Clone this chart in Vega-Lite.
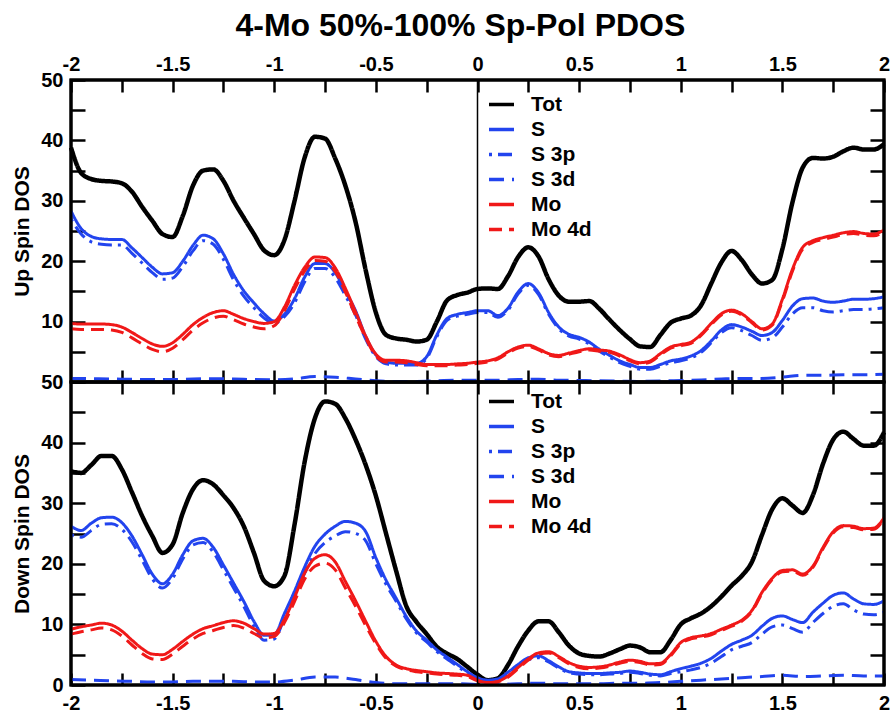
{
"$schema": "https://vega.github.io/schema/vega-lite/v6.json",
"background": "white",
"padding": {"left": 10, "top": 9, "right": 5, "bottom": 5},
"title": {"text": "4-Mo 50%-100% Sp-Pol PDOS", "fontSize": 32, "font": "Liberation Sans", "fontWeight": "bold", "color": "black", "anchor": "middle", "offset": 10, "dx": 8},
"config": {
  "font": "Liberation Sans",
  "view": {"stroke": "black", "strokeWidth": 3},
  "axis": {"grid": false, "domain": false, "zindex": 1, "tickColor": "black", "tickWidth": 2.5, "labelColor": "black", "labelFontSize": 20, "labelFontWeight": "bold", "titleFontSize": 21, "titleFontWeight": "bold", "titleColor": "black"},
  "legend": {"labelFontSize": 21, "labelFontWeight": "bold", "labelColor": "black", "symbolType": "stroke", "symbolSize": 625, "symbolStrokeWidth": 3.5, "rowPadding": 0, "labelOffset": 15, "padding": 0}
},
"spacing": 0,
"bounds": "flush",
"resolve": {"scale": {"color": "independent", "strokeDash": "independent"}, "legend": {"color": "independent", "strokeDash": "independent"}},
"datasets": {
"up": [
{"s":"Tot","x":-2,"y":38.8},{"s":"Tot","x":-1.95,"y":34.6},{"s":"Tot","x":-1.9,"y":33.6},{"s":"Tot","x":-1.85,"y":33.3},{"s":"Tot","x":-1.8,"y":33.2},{"s":"Tot","x":-1.75,"y":32.9},{"s":"Tot","x":-1.7,"y":31.5},{"s":"Tot","x":-1.65,"y":29.0},{"s":"Tot","x":-1.6,"y":26.7},{"s":"Tot","x":-1.55,"y":24.5},{"s":"Tot","x":-1.5,"y":24.0},{"s":"Tot","x":-1.45,"y":27.5},{"s":"Tot","x":-1.4,"y":32.5},{"s":"Tot","x":-1.35,"y":35.0},{"s":"Tot","x":-1.3,"y":35.2},{"s":"Tot","x":-1.25,"y":33.3},{"s":"Tot","x":-1.2,"y":30.0},{"s":"Tot","x":-1.15,"y":27.2},{"s":"Tot","x":-1.1,"y":24.5},{"s":"Tot","x":-1.05,"y":21.8},{"s":"Tot","x":-1,"y":21.0},{"s":"Tot","x":-0.95,"y":23.5},{"s":"Tot","x":-0.9,"y":30.0},{"s":"Tot","x":-0.85,"y":37.2},{"s":"Tot","x":-0.8,"y":40.6},{"s":"Tot","x":-0.75,"y":40.3},{"s":"Tot","x":-0.7,"y":37.0},{"s":"Tot","x":-0.65,"y":32.5},{"s":"Tot","x":-0.6,"y":26.5},{"s":"Tot","x":-0.55,"y":18.5},{"s":"Tot","x":-0.5,"y":11.5},{"s":"Tot","x":-0.45,"y":7.8},{"s":"Tot","x":-0.4,"y":7.2},{"s":"Tot","x":-0.35,"y":7.0},{"s":"Tot","x":-0.3,"y":6.7},{"s":"Tot","x":-0.25,"y":7.0},{"s":"Tot","x":-0.2,"y":10.0},{"s":"Tot","x":-0.15,"y":13.5},{"s":"Tot","x":-0.1,"y":14.4},{"s":"Tot","x":-0.05,"y":14.8},{"s":"Tot","x":0,"y":15.4},{"s":"Tot","x":0.05,"y":15.5},{"s":"Tot","x":0.1,"y":15.4},{"s":"Tot","x":0.15,"y":17.5},{"s":"Tot","x":0.2,"y":20.7},{"s":"Tot","x":0.25,"y":22.3},{"s":"Tot","x":0.3,"y":20.8},{"s":"Tot","x":0.35,"y":17.0},{"s":"Tot","x":0.4,"y":14.3},{"s":"Tot","x":0.45,"y":13.3},{"s":"Tot","x":0.5,"y":13.3},{"s":"Tot","x":0.55,"y":13.4},{"s":"Tot","x":0.6,"y":12.1},{"s":"Tot","x":0.65,"y":10.3},{"s":"Tot","x":0.7,"y":8.6},{"s":"Tot","x":0.75,"y":7.1},{"s":"Tot","x":0.8,"y":5.9},{"s":"Tot","x":0.85,"y":5.8},{"s":"Tot","x":0.9,"y":7.8},{"s":"Tot","x":0.95,"y":9.8},{"s":"Tot","x":1,"y":10.5},{"s":"Tot","x":1.05,"y":11.0},{"s":"Tot","x":1.1,"y":12.7},{"s":"Tot","x":1.15,"y":16.3},{"s":"Tot","x":1.2,"y":19.8},{"s":"Tot","x":1.25,"y":21.7},{"s":"Tot","x":1.3,"y":20.2},{"s":"Tot","x":1.35,"y":17.8},{"s":"Tot","x":1.4,"y":16.3},{"s":"Tot","x":1.45,"y":16.9},{"s":"Tot","x":1.5,"y":22.0},{"s":"Tot","x":1.55,"y":29.8},{"s":"Tot","x":1.6,"y":35.5},{"s":"Tot","x":1.65,"y":37.1},{"s":"Tot","x":1.7,"y":37.0},{"s":"Tot","x":1.75,"y":37.3},{"s":"Tot","x":1.8,"y":38.2},{"s":"Tot","x":1.85,"y":38.8},{"s":"Tot","x":1.9,"y":38.5},{"s":"Tot","x":1.95,"y":38.5},{"s":"Tot","x":2,"y":39.4},
{"s":"S","x":-2,"y":28.3},{"s":"S","x":-1.95,"y":25.4},{"s":"S","x":-1.9,"y":24.1},{"s":"S","x":-1.85,"y":23.7},{"s":"S","x":-1.8,"y":23.6},{"s":"S","x":-1.75,"y":23.6},{"s":"S","x":-1.7,"y":22.2},{"s":"S","x":-1.65,"y":20.6},{"s":"S","x":-1.6,"y":19.0},{"s":"S","x":-1.55,"y":17.9},{"s":"S","x":-1.5,"y":18.1},{"s":"S","x":-1.45,"y":20.0},{"s":"S","x":-1.4,"y":22.6},{"s":"S","x":-1.35,"y":24.3},{"s":"S","x":-1.3,"y":23.7},{"s":"S","x":-1.25,"y":21.2},{"s":"S","x":-1.2,"y":17.8},{"s":"S","x":-1.15,"y":15.1},{"s":"S","x":-1.1,"y":13.1},{"s":"S","x":-1.05,"y":11.3},{"s":"S","x":-1,"y":10.1},{"s":"S","x":-0.95,"y":11.2},{"s":"S","x":-0.9,"y":13.8},{"s":"S","x":-0.85,"y":17.4},{"s":"S","x":-0.8,"y":19.6},{"s":"S","x":-0.75,"y":19.6},{"s":"S","x":-0.7,"y":18.1},{"s":"S","x":-0.65,"y":15.0},{"s":"S","x":-0.6,"y":11.8},{"s":"S","x":-0.55,"y":7.5},{"s":"S","x":-0.5,"y":4.5},{"s":"S","x":-0.45,"y":3.3},{"s":"S","x":-0.4,"y":3.1},{"s":"S","x":-0.35,"y":3.1},{"s":"S","x":-0.3,"y":3.1},{"s":"S","x":-0.25,"y":4.2},{"s":"S","x":-0.2,"y":7.8},{"s":"S","x":-0.15,"y":10.5},{"s":"S","x":-0.1,"y":11.2},{"s":"S","x":-0.05,"y":11.5},{"s":"S","x":0,"y":11.8},{"s":"S","x":0.05,"y":11.8},{"s":"S","x":0.1,"y":11.0},{"s":"S","x":0.15,"y":12.2},{"s":"S","x":0.2,"y":14.9},{"s":"S","x":0.25,"y":16.3},{"s":"S","x":0.3,"y":14.8},{"s":"S","x":0.35,"y":11.5},{"s":"S","x":0.4,"y":9.1},{"s":"S","x":0.45,"y":7.9},{"s":"S","x":0.5,"y":7.4},{"s":"S","x":0.55,"y":6.6},{"s":"S","x":0.6,"y":5.4},{"s":"S","x":0.65,"y":4.4},{"s":"S","x":0.7,"y":3.5},{"s":"S","x":0.75,"y":2.9},{"s":"S","x":0.8,"y":2.4},{"s":"S","x":0.85,"y":2.4},{"s":"S","x":0.9,"y":2.9},{"s":"S","x":0.95,"y":3.5},{"s":"S","x":1,"y":3.8},{"s":"S","x":1.05,"y":4.3},{"s":"S","x":1.1,"y":5.2},{"s":"S","x":1.15,"y":6.8},{"s":"S","x":1.2,"y":8.6},{"s":"S","x":1.25,"y":9.5},{"s":"S","x":1.3,"y":9.1},{"s":"S","x":1.35,"y":8.4},{"s":"S","x":1.4,"y":7.7},{"s":"S","x":1.45,"y":8.2},{"s":"S","x":1.5,"y":10.2},{"s":"S","x":1.55,"y":12.6},{"s":"S","x":1.6,"y":13.8},{"s":"S","x":1.65,"y":13.9},{"s":"S","x":1.7,"y":13.4},{"s":"S","x":1.75,"y":13.2},{"s":"S","x":1.8,"y":13.4},{"s":"S","x":1.85,"y":13.7},{"s":"S","x":1.9,"y":13.7},{"s":"S","x":1.95,"y":13.8},{"s":"S","x":2,"y":14.1},
{"s":"S 3p","x":-2,"y":27.0},{"s":"S 3p","x":-1.95,"y":24.5},{"s":"S 3p","x":-1.9,"y":23.2},{"s":"S 3p","x":-1.85,"y":22.8},{"s":"S 3p","x":-1.8,"y":22.7},{"s":"S 3p","x":-1.75,"y":22.7},{"s":"S 3p","x":-1.7,"y":21.3},{"s":"S 3p","x":-1.65,"y":19.7},{"s":"S 3p","x":-1.6,"y":18.1},{"s":"S 3p","x":-1.55,"y":17.0},{"s":"S 3p","x":-1.5,"y":17.2},{"s":"S 3p","x":-1.45,"y":19.1},{"s":"S 3p","x":-1.4,"y":21.7},{"s":"S 3p","x":-1.35,"y":23.4},{"s":"S 3p","x":-1.3,"y":22.8},{"s":"S 3p","x":-1.25,"y":20.3},{"s":"S 3p","x":-1.2,"y":16.9},{"s":"S 3p","x":-1.15,"y":14.2},{"s":"S 3p","x":-1.1,"y":12.3},{"s":"S 3p","x":-1.05,"y":10.6},{"s":"S 3p","x":-1,"y":9.7},{"s":"S 3p","x":-0.95,"y":10.8},{"s":"S 3p","x":-0.9,"y":13.1},{"s":"S 3p","x":-0.85,"y":16.6},{"s":"S 3p","x":-0.8,"y":18.8},{"s":"S 3p","x":-0.75,"y":18.8},{"s":"S 3p","x":-0.7,"y":17.3},{"s":"S 3p","x":-0.65,"y":14.3},{"s":"S 3p","x":-0.6,"y":11.1},{"s":"S 3p","x":-0.55,"y":7.1},{"s":"S 3p","x":-0.5,"y":4.2},{"s":"S 3p","x":-0.45,"y":3.0},{"s":"S 3p","x":-0.4,"y":2.8},{"s":"S 3p","x":-0.35,"y":2.8},{"s":"S 3p","x":-0.3,"y":2.8},{"s":"S 3p","x":-0.25,"y":3.9},{"s":"S 3p","x":-0.2,"y":7.5},{"s":"S 3p","x":-0.15,"y":10.2},{"s":"S 3p","x":-0.1,"y":10.9},{"s":"S 3p","x":-0.05,"y":11.2},{"s":"S 3p","x":0,"y":11.5},{"s":"S 3p","x":0.05,"y":11.5},{"s":"S 3p","x":0.1,"y":10.7},{"s":"S 3p","x":0.15,"y":11.9},{"s":"S 3p","x":0.2,"y":14.6},{"s":"S 3p","x":0.25,"y":16.0},{"s":"S 3p","x":0.3,"y":14.5},{"s":"S 3p","x":0.35,"y":11.2},{"s":"S 3p","x":0.4,"y":8.8},{"s":"S 3p","x":0.45,"y":7.6},{"s":"S 3p","x":0.5,"y":7.1},{"s":"S 3p","x":0.55,"y":6.3},{"s":"S 3p","x":0.6,"y":5.1},{"s":"S 3p","x":0.65,"y":4.1},{"s":"S 3p","x":0.7,"y":3.2},{"s":"S 3p","x":0.75,"y":2.6},{"s":"S 3p","x":0.8,"y":2.1},{"s":"S 3p","x":0.85,"y":2.1},{"s":"S 3p","x":0.9,"y":2.6},{"s":"S 3p","x":0.95,"y":3.2},{"s":"S 3p","x":1,"y":3.5},{"s":"S 3p","x":1.05,"y":4.0},{"s":"S 3p","x":1.1,"y":4.9},{"s":"S 3p","x":1.15,"y":6.5},{"s":"S 3p","x":1.2,"y":8.2},{"s":"S 3p","x":1.25,"y":9.0},{"s":"S 3p","x":1.3,"y":8.5},{"s":"S 3p","x":1.35,"y":7.7},{"s":"S 3p","x":1.4,"y":6.9},{"s":"S 3p","x":1.45,"y":7.3},{"s":"S 3p","x":1.5,"y":9.1},{"s":"S 3p","x":1.55,"y":11.3},{"s":"S 3p","x":1.6,"y":12.3},{"s":"S 3p","x":1.65,"y":12.3},{"s":"S 3p","x":1.7,"y":11.8},{"s":"S 3p","x":1.75,"y":11.6},{"s":"S 3p","x":1.8,"y":11.8},{"s":"S 3p","x":1.85,"y":12.0},{"s":"S 3p","x":1.9,"y":12.0},{"s":"S 3p","x":1.95,"y":12.1},{"s":"S 3p","x":2,"y":12.3},
{"s":"S 3d","x":-2,"y":0.6},{"s":"S 3d","x":-1.9,"y":0.55},{"s":"S 3d","x":-1.8,"y":0.5},{"s":"S 3d","x":-1.7,"y":0.45},{"s":"S 3d","x":-1.6,"y":0.4},{"s":"S 3d","x":-1.5,"y":0.4},{"s":"S 3d","x":-1.4,"y":0.5},{"s":"S 3d","x":-1.3,"y":0.55},{"s":"S 3d","x":-1.2,"y":0.5},{"s":"S 3d","x":-1.1,"y":0.4},{"s":"S 3d","x":-1,"y":0.35},{"s":"S 3d","x":-0.9,"y":0.5},{"s":"S 3d","x":-0.8,"y":0.9},{"s":"S 3d","x":-0.7,"y":0.8},{"s":"S 3d","x":-0.6,"y":0.5},{"s":"S 3d","x":-0.5,"y":0.2},{"s":"S 3d","x":-0.4,"y":0.1},{"s":"S 3d","x":-0.3,"y":0.1},{"s":"S 3d","x":-0.2,"y":0.2},{"s":"S 3d","x":-0.1,"y":0.3},{"s":"S 3d","x":0,"y":0.3},{"s":"S 3d","x":0.1,"y":0.3},{"s":"S 3d","x":0.2,"y":0.4},{"s":"S 3d","x":0.3,"y":0.45},{"s":"S 3d","x":0.4,"y":0.3},{"s":"S 3d","x":0.5,"y":0.25},{"s":"S 3d","x":0.6,"y":0.2},{"s":"S 3d","x":0.7,"y":0.15},{"s":"S 3d","x":0.8,"y":0.1},{"s":"S 3d","x":0.9,"y":0.15},{"s":"S 3d","x":1,"y":0.25},{"s":"S 3d","x":1.1,"y":0.35},{"s":"S 3d","x":1.2,"y":0.5},{"s":"S 3d","x":1.3,"y":0.6},{"s":"S 3d","x":1.4,"y":0.6},{"s":"S 3d","x":1.5,"y":0.8},{"s":"S 3d","x":1.6,"y":1.1},{"s":"S 3d","x":1.7,"y":1.1},{"s":"S 3d","x":1.8,"y":1.2},{"s":"S 3d","x":1.9,"y":1.2},{"s":"S 3d","x":2,"y":1.3},
{"s":"Mo","x":-2,"y":9.7},{"s":"Mo","x":-1.95,"y":9.6},{"s":"Mo","x":-1.9,"y":9.6},{"s":"Mo","x":-1.85,"y":9.6},{"s":"Mo","x":-1.8,"y":9.5},{"s":"Mo","x":-1.75,"y":9.1},{"s":"Mo","x":-1.7,"y":8.2},{"s":"Mo","x":-1.65,"y":7.2},{"s":"Mo","x":-1.6,"y":6.3},{"s":"Mo","x":-1.55,"y":5.9},{"s":"Mo","x":-1.5,"y":6.5},{"s":"Mo","x":-1.45,"y":7.9},{"s":"Mo","x":-1.4,"y":9.5},{"s":"Mo","x":-1.35,"y":10.7},{"s":"Mo","x":-1.3,"y":11.5},{"s":"Mo","x":-1.25,"y":11.8},{"s":"Mo","x":-1.2,"y":11.2},{"s":"Mo","x":-1.15,"y":10.5},{"s":"Mo","x":-1.1,"y":10.0},{"s":"Mo","x":-1.05,"y":9.7},{"s":"Mo","x":-1,"y":10.0},{"s":"Mo","x":-0.95,"y":12.4},{"s":"Mo","x":-0.9,"y":16.0},{"s":"Mo","x":-0.85,"y":19.0},{"s":"Mo","x":-0.8,"y":20.7},{"s":"Mo","x":-0.75,"y":20.6},{"s":"Mo","x":-0.7,"y":18.9},{"s":"Mo","x":-0.65,"y":15.5},{"s":"Mo","x":-0.6,"y":11.6},{"s":"Mo","x":-0.55,"y":7.6},{"s":"Mo","x":-0.5,"y":4.6},{"s":"Mo","x":-0.45,"y":3.6},{"s":"Mo","x":-0.4,"y":3.6},{"s":"Mo","x":-0.35,"y":3.5},{"s":"Mo","x":-0.3,"y":3.2},{"s":"Mo","x":-0.25,"y":2.9},{"s":"Mo","x":-0.2,"y":2.9},{"s":"Mo","x":-0.15,"y":2.9},{"s":"Mo","x":-0.1,"y":3.0},{"s":"Mo","x":-0.05,"y":3.1},{"s":"Mo","x":0,"y":3.3},{"s":"Mo","x":0.05,"y":3.5},{"s":"Mo","x":0.1,"y":4.0},{"s":"Mo","x":0.15,"y":5.0},{"s":"Mo","x":0.2,"y":5.8},{"s":"Mo","x":0.25,"y":6.1},{"s":"Mo","x":0.3,"y":5.5},{"s":"Mo","x":0.35,"y":4.7},{"s":"Mo","x":0.4,"y":4.4},{"s":"Mo","x":0.45,"y":4.8},{"s":"Mo","x":0.5,"y":5.2},{"s":"Mo","x":0.55,"y":5.5},{"s":"Mo","x":0.6,"y":5.3},{"s":"Mo","x":0.65,"y":5.1},{"s":"Mo","x":0.7,"y":4.5},{"s":"Mo","x":0.75,"y":3.7},{"s":"Mo","x":0.8,"y":3.2},{"s":"Mo","x":0.85,"y":3.5},{"s":"Mo","x":0.9,"y":4.7},{"s":"Mo","x":0.95,"y":5.8},{"s":"Mo","x":1,"y":6.2},{"s":"Mo","x":1.05,"y":6.6},{"s":"Mo","x":1.1,"y":7.9},{"s":"Mo","x":1.15,"y":9.7},{"s":"Mo","x":1.2,"y":11.3},{"s":"Mo","x":1.25,"y":11.9},{"s":"Mo","x":1.3,"y":11.3},{"s":"Mo","x":1.35,"y":10.0},{"s":"Mo","x":1.4,"y":8.8},{"s":"Mo","x":1.45,"y":9.6},{"s":"Mo","x":1.5,"y":13.7},{"s":"Mo","x":1.55,"y":18.7},{"s":"Mo","x":1.6,"y":22.3},{"s":"Mo","x":1.65,"y":23.4},{"s":"Mo","x":1.7,"y":23.9},{"s":"Mo","x":1.75,"y":24.3},{"s":"Mo","x":1.8,"y":24.7},{"s":"Mo","x":1.85,"y":24.9},{"s":"Mo","x":1.9,"y":24.6},{"s":"Mo","x":1.95,"y":24.5},{"s":"Mo","x":2,"y":25.2},
{"s":"Mo 4d","x":-2,"y":8.8},{"s":"Mo 4d","x":-1.95,"y":8.7},{"s":"Mo 4d","x":-1.9,"y":8.7},{"s":"Mo 4d","x":-1.85,"y":8.7},{"s":"Mo 4d","x":-1.8,"y":8.6},{"s":"Mo 4d","x":-1.75,"y":8.2},{"s":"Mo 4d","x":-1.7,"y":7.3},{"s":"Mo 4d","x":-1.65,"y":6.3},{"s":"Mo 4d","x":-1.6,"y":5.4},{"s":"Mo 4d","x":-1.55,"y":5.0},{"s":"Mo 4d","x":-1.5,"y":5.6},{"s":"Mo 4d","x":-1.45,"y":7.0},{"s":"Mo 4d","x":-1.4,"y":8.6},{"s":"Mo 4d","x":-1.35,"y":9.8},{"s":"Mo 4d","x":-1.3,"y":10.6},{"s":"Mo 4d","x":-1.25,"y":10.9},{"s":"Mo 4d","x":-1.2,"y":10.3},{"s":"Mo 4d","x":-1.15,"y":9.6},{"s":"Mo 4d","x":-1.1,"y":9.1},{"s":"Mo 4d","x":-1.05,"y":8.8},{"s":"Mo 4d","x":-1,"y":9.3},{"s":"Mo 4d","x":-0.95,"y":11.8},{"s":"Mo 4d","x":-0.9,"y":15.4},{"s":"Mo 4d","x":-0.85,"y":18.4},{"s":"Mo 4d","x":-0.8,"y":20.1},{"s":"Mo 4d","x":-0.75,"y":20.0},{"s":"Mo 4d","x":-0.7,"y":18.3},{"s":"Mo 4d","x":-0.65,"y":14.9},{"s":"Mo 4d","x":-0.6,"y":11.0},{"s":"Mo 4d","x":-0.55,"y":7.3},{"s":"Mo 4d","x":-0.5,"y":4.3},{"s":"Mo 4d","x":-0.45,"y":3.3},{"s":"Mo 4d","x":-0.4,"y":3.3},{"s":"Mo 4d","x":-0.35,"y":3.2},{"s":"Mo 4d","x":-0.3,"y":2.9},{"s":"Mo 4d","x":-0.25,"y":2.7},{"s":"Mo 4d","x":-0.2,"y":2.7},{"s":"Mo 4d","x":-0.15,"y":2.7},{"s":"Mo 4d","x":-0.1,"y":2.8},{"s":"Mo 4d","x":-0.05,"y":2.9},{"s":"Mo 4d","x":0,"y":3.1},{"s":"Mo 4d","x":0.05,"y":3.3},{"s":"Mo 4d","x":0.1,"y":3.8},{"s":"Mo 4d","x":0.15,"y":4.8},{"s":"Mo 4d","x":0.2,"y":5.6},{"s":"Mo 4d","x":0.25,"y":5.9},{"s":"Mo 4d","x":0.3,"y":5.3},{"s":"Mo 4d","x":0.35,"y":4.5},{"s":"Mo 4d","x":0.4,"y":4.2},{"s":"Mo 4d","x":0.45,"y":4.6},{"s":"Mo 4d","x":0.5,"y":5.0},{"s":"Mo 4d","x":0.55,"y":5.3},{"s":"Mo 4d","x":0.6,"y":5.1},{"s":"Mo 4d","x":0.65,"y":4.9},{"s":"Mo 4d","x":0.7,"y":4.3},{"s":"Mo 4d","x":0.75,"y":3.5},{"s":"Mo 4d","x":0.8,"y":3.0},{"s":"Mo 4d","x":0.85,"y":3.3},{"s":"Mo 4d","x":0.9,"y":4.5},{"s":"Mo 4d","x":0.95,"y":5.6},{"s":"Mo 4d","x":1,"y":6.0},{"s":"Mo 4d","x":1.05,"y":6.4},{"s":"Mo 4d","x":1.1,"y":7.7},{"s":"Mo 4d","x":1.15,"y":9.5},{"s":"Mo 4d","x":1.2,"y":11.1},{"s":"Mo 4d","x":1.25,"y":11.7},{"s":"Mo 4d","x":1.3,"y":11.1},{"s":"Mo 4d","x":1.35,"y":9.8},{"s":"Mo 4d","x":1.4,"y":8.6},{"s":"Mo 4d","x":1.45,"y":9.4},{"s":"Mo 4d","x":1.5,"y":13.4},{"s":"Mo 4d","x":1.55,"y":18.4},{"s":"Mo 4d","x":1.6,"y":22.0},{"s":"Mo 4d","x":1.65,"y":23.1},{"s":"Mo 4d","x":1.7,"y":23.6},{"s":"Mo 4d","x":1.75,"y":24.0},{"s":"Mo 4d","x":1.8,"y":24.4},{"s":"Mo 4d","x":1.85,"y":24.6},{"s":"Mo 4d","x":1.9,"y":24.3},{"s":"Mo 4d","x":1.95,"y":24.2},{"s":"Mo 4d","x":2,"y":24.9}
],
"down": [
{"s":"Tot","x":-2,"y":35.3},{"s":"Tot","x":-1.95,"y":35.0},{"s":"Tot","x":-1.9,"y":36.3},{"s":"Tot","x":-1.85,"y":37.8},{"s":"Tot","x":-1.8,"y":37.8},{"s":"Tot","x":-1.75,"y":35.6},{"s":"Tot","x":-1.7,"y":31.8},{"s":"Tot","x":-1.65,"y":27.9},{"s":"Tot","x":-1.6,"y":24.6},{"s":"Tot","x":-1.55,"y":21.8},{"s":"Tot","x":-1.5,"y":23.2},{"s":"Tot","x":-1.45,"y":28.4},{"s":"Tot","x":-1.4,"y":32.3},{"s":"Tot","x":-1.35,"y":33.8},{"s":"Tot","x":-1.3,"y":33.1},{"s":"Tot","x":-1.25,"y":31.3},{"s":"Tot","x":-1.2,"y":29.2},{"s":"Tot","x":-1.15,"y":26.2},{"s":"Tot","x":-1.1,"y":21.8},{"s":"Tot","x":-1.05,"y":17.2},{"s":"Tot","x":-1,"y":16.3},{"s":"Tot","x":-0.95,"y":18.0},{"s":"Tot","x":-0.9,"y":26.5},{"s":"Tot","x":-0.85,"y":36.9},{"s":"Tot","x":-0.8,"y":44.0},{"s":"Tot","x":-0.75,"y":46.8},{"s":"Tot","x":-0.7,"y":46.4},{"s":"Tot","x":-0.65,"y":44.0},{"s":"Tot","x":-0.6,"y":40.5},{"s":"Tot","x":-0.55,"y":36.3},{"s":"Tot","x":-0.5,"y":31.2},{"s":"Tot","x":-0.45,"y":25.0},{"s":"Tot","x":-0.4,"y":18.8},{"s":"Tot","x":-0.35,"y":13.0},{"s":"Tot","x":-0.3,"y":10.4},{"s":"Tot","x":-0.25,"y":8.4},{"s":"Tot","x":-0.2,"y":6.3},{"s":"Tot","x":-0.15,"y":5.2},{"s":"Tot","x":-0.1,"y":4.3},{"s":"Tot","x":-0.05,"y":3.0},{"s":"Tot","x":0,"y":1.7},{"s":"Tot","x":0.05,"y":0.8},{"s":"Tot","x":0.1,"y":1.1},{"s":"Tot","x":0.15,"y":3.3},{"s":"Tot","x":0.2,"y":6.4},{"s":"Tot","x":0.25,"y":9.0},{"s":"Tot","x":0.3,"y":10.5},{"s":"Tot","x":0.35,"y":10.5},{"s":"Tot","x":0.4,"y":8.7},{"s":"Tot","x":0.45,"y":6.5},{"s":"Tot","x":0.5,"y":5.2},{"s":"Tot","x":0.55,"y":4.8},{"s":"Tot","x":0.6,"y":4.7},{"s":"Tot","x":0.65,"y":5.2},{"s":"Tot","x":0.7,"y":5.9},{"s":"Tot","x":0.75,"y":6.5},{"s":"Tot","x":0.8,"y":6.2},{"s":"Tot","x":0.85,"y":5.4},{"s":"Tot","x":0.9,"y":5.4},{"s":"Tot","x":0.95,"y":7.4},{"s":"Tot","x":1,"y":10.0},{"s":"Tot","x":1.05,"y":11.0},{"s":"Tot","x":1.1,"y":11.8},{"s":"Tot","x":1.15,"y":13.0},{"s":"Tot","x":1.2,"y":14.6},{"s":"Tot","x":1.25,"y":16.4},{"s":"Tot","x":1.3,"y":18.0},{"s":"Tot","x":1.35,"y":20.3},{"s":"Tot","x":1.4,"y":24.8},{"s":"Tot","x":1.45,"y":29.0},{"s":"Tot","x":1.5,"y":30.8},{"s":"Tot","x":1.55,"y":29.6},{"s":"Tot","x":1.6,"y":28.4},{"s":"Tot","x":1.65,"y":31.3},{"s":"Tot","x":1.7,"y":36.5},{"s":"Tot","x":1.75,"y":40.5},{"s":"Tot","x":1.8,"y":41.8},{"s":"Tot","x":1.85,"y":40.6},{"s":"Tot","x":1.9,"y":39.5},{"s":"Tot","x":1.95,"y":39.5},{"s":"Tot","x":2,"y":41.7},
{"s":"S","x":-2,"y":26.2},{"s":"S","x":-1.95,"y":25.5},{"s":"S","x":-1.9,"y":26.7},{"s":"S","x":-1.85,"y":27.6},{"s":"S","x":-1.8,"y":27.7},{"s":"S","x":-1.75,"y":26.8},{"s":"S","x":-1.7,"y":24.6},{"s":"S","x":-1.65,"y":21.5},{"s":"S","x":-1.6,"y":18.3},{"s":"S","x":-1.55,"y":16.7},{"s":"S","x":-1.5,"y":18.3},{"s":"S","x":-1.45,"y":21.5},{"s":"S","x":-1.4,"y":23.8},{"s":"S","x":-1.35,"y":24.2},{"s":"S","x":-1.3,"y":22.7},{"s":"S","x":-1.25,"y":19.8},{"s":"S","x":-1.2,"y":16.8},{"s":"S","x":-1.15,"y":13.8},{"s":"S","x":-1.1,"y":10.5},{"s":"S","x":-1.05,"y":8.2},{"s":"S","x":-1,"y":8.3},{"s":"S","x":-0.95,"y":11.8},{"s":"S","x":-0.9,"y":15.5},{"s":"S","x":-0.85,"y":19.5},{"s":"S","x":-0.8,"y":22.9},{"s":"S","x":-0.75,"y":24.9},{"s":"S","x":-0.7,"y":26.2},{"s":"S","x":-0.65,"y":27.0},{"s":"S","x":-0.6,"y":26.7},{"s":"S","x":-0.55,"y":25.3},{"s":"S","x":-0.5,"y":21.0},{"s":"S","x":-0.45,"y":17.3},{"s":"S","x":-0.4,"y":14.3},{"s":"S","x":-0.35,"y":11.3},{"s":"S","x":-0.3,"y":8.9},{"s":"S","x":-0.25,"y":7.4},{"s":"S","x":-0.2,"y":5.8},{"s":"S","x":-0.15,"y":4.6},{"s":"S","x":-0.1,"y":3.4},{"s":"S","x":-0.05,"y":2.2},{"s":"S","x":0,"y":1.2},{"s":"S","x":0.05,"y":0.8},{"s":"S","x":0.1,"y":1.0},{"s":"S","x":0.15,"y":2.1},{"s":"S","x":0.2,"y":3.4},{"s":"S","x":0.25,"y":4.5},{"s":"S","x":0.3,"y":4.8},{"s":"S","x":0.35,"y":4.0},{"s":"S","x":0.4,"y":3.0},{"s":"S","x":0.45,"y":2.2},{"s":"S","x":0.5,"y":2.0},{"s":"S","x":0.55,"y":1.9},{"s":"S","x":0.6,"y":1.9},{"s":"S","x":0.65,"y":2.0},{"s":"S","x":0.7,"y":2.1},{"s":"S","x":0.75,"y":2.3},{"s":"S","x":0.8,"y":2.1},{"s":"S","x":0.85,"y":1.8},{"s":"S","x":0.9,"y":1.7},{"s":"S","x":0.95,"y":2.2},{"s":"S","x":1,"y":2.7},{"s":"S","x":1.05,"y":3.1},{"s":"S","x":1.1,"y":3.6},{"s":"S","x":1.15,"y":4.4},{"s":"S","x":1.2,"y":5.6},{"s":"S","x":1.25,"y":6.7},{"s":"S","x":1.3,"y":7.4},{"s":"S","x":1.35,"y":8.2},{"s":"S","x":1.4,"y":9.7},{"s":"S","x":1.45,"y":11.0},{"s":"S","x":1.5,"y":11.4},{"s":"S","x":1.55,"y":10.8},{"s":"S","x":1.6,"y":10.3},{"s":"S","x":1.65,"y":12.0},{"s":"S","x":1.7,"y":13.5},{"s":"S","x":1.75,"y":14.8},{"s":"S","x":1.8,"y":15.2},{"s":"S","x":1.85,"y":14.2},{"s":"S","x":1.9,"y":13.4},{"s":"S","x":1.95,"y":13.3},{"s":"S","x":2,"y":13.9},
{"s":"S 3p","x":-2,"y":24.8},{"s":"S 3p","x":-1.95,"y":24.4},{"s":"S 3p","x":-1.9,"y":25.5},{"s":"S 3p","x":-1.85,"y":26.5},{"s":"S 3p","x":-1.8,"y":26.6},{"s":"S 3p","x":-1.75,"y":25.7},{"s":"S 3p","x":-1.7,"y":23.6},{"s":"S 3p","x":-1.65,"y":20.6},{"s":"S 3p","x":-1.6,"y":17.5},{"s":"S 3p","x":-1.55,"y":16.0},{"s":"S 3p","x":-1.5,"y":17.6},{"s":"S 3p","x":-1.45,"y":20.8},{"s":"S 3p","x":-1.4,"y":23.1},{"s":"S 3p","x":-1.35,"y":23.5},{"s":"S 3p","x":-1.3,"y":21.9},{"s":"S 3p","x":-1.25,"y":19.0},{"s":"S 3p","x":-1.2,"y":16.0},{"s":"S 3p","x":-1.15,"y":13.0},{"s":"S 3p","x":-1.1,"y":9.7},{"s":"S 3p","x":-1.05,"y":7.4},{"s":"S 3p","x":-1,"y":7.6},{"s":"S 3p","x":-0.95,"y":11.0},{"s":"S 3p","x":-0.9,"y":14.6},{"s":"S 3p","x":-0.85,"y":18.5},{"s":"S 3p","x":-0.8,"y":21.7},{"s":"S 3p","x":-0.75,"y":23.5},{"s":"S 3p","x":-0.7,"y":24.6},{"s":"S 3p","x":-0.65,"y":25.3},{"s":"S 3p","x":-0.6,"y":25.0},{"s":"S 3p","x":-0.55,"y":23.8},{"s":"S 3p","x":-0.5,"y":20.0},{"s":"S 3p","x":-0.45,"y":16.6},{"s":"S 3p","x":-0.4,"y":13.8},{"s":"S 3p","x":-0.35,"y":10.9},{"s":"S 3p","x":-0.3,"y":8.6},{"s":"S 3p","x":-0.25,"y":7.1},{"s":"S 3p","x":-0.2,"y":5.5},{"s":"S 3p","x":-0.15,"y":4.3},{"s":"S 3p","x":-0.1,"y":3.1},{"s":"S 3p","x":-0.05,"y":2.0},{"s":"S 3p","x":0,"y":1.0},{"s":"S 3p","x":0.05,"y":0.6},{"s":"S 3p","x":0.1,"y":0.8},{"s":"S 3p","x":0.15,"y":1.9},{"s":"S 3p","x":0.2,"y":3.2},{"s":"S 3p","x":0.25,"y":4.2},{"s":"S 3p","x":0.3,"y":4.5},{"s":"S 3p","x":0.35,"y":3.8},{"s":"S 3p","x":0.4,"y":2.8},{"s":"S 3p","x":0.45,"y":2.0},{"s":"S 3p","x":0.5,"y":1.8},{"s":"S 3p","x":0.55,"y":1.7},{"s":"S 3p","x":0.6,"y":1.7},{"s":"S 3p","x":0.65,"y":1.8},{"s":"S 3p","x":0.7,"y":1.9},{"s":"S 3p","x":0.75,"y":2.1},{"s":"S 3p","x":0.8,"y":1.9},{"s":"S 3p","x":0.85,"y":1.6},{"s":"S 3p","x":0.9,"y":1.5},{"s":"S 3p","x":0.95,"y":1.9},{"s":"S 3p","x":1,"y":2.2},{"s":"S 3p","x":1.05,"y":2.5},{"s":"S 3p","x":1.1,"y":2.9},{"s":"S 3p","x":1.15,"y":3.6},{"s":"S 3p","x":1.2,"y":4.7},{"s":"S 3p","x":1.25,"y":5.8},{"s":"S 3p","x":1.3,"y":6.4},{"s":"S 3p","x":1.35,"y":7.0},{"s":"S 3p","x":1.4,"y":8.4},{"s":"S 3p","x":1.45,"y":9.6},{"s":"S 3p","x":1.5,"y":9.9},{"s":"S 3p","x":1.55,"y":9.3},{"s":"S 3p","x":1.6,"y":8.7},{"s":"S 3p","x":1.65,"y":10.3},{"s":"S 3p","x":1.7,"y":11.8},{"s":"S 3p","x":1.75,"y":13.0},{"s":"S 3p","x":1.8,"y":13.4},{"s":"S 3p","x":1.85,"y":12.4},{"s":"S 3p","x":1.9,"y":11.7},{"s":"S 3p","x":1.95,"y":11.6},{"s":"S 3p","x":2,"y":12.0},
{"s":"S 3d","x":-2,"y":0.9},{"s":"S 3d","x":-1.9,"y":0.8},{"s":"S 3d","x":-1.8,"y":0.7},{"s":"S 3d","x":-1.7,"y":0.6},{"s":"S 3d","x":-1.6,"y":0.5},{"s":"S 3d","x":-1.5,"y":0.5},{"s":"S 3d","x":-1.4,"y":0.6},{"s":"S 3d","x":-1.3,"y":0.6},{"s":"S 3d","x":-1.2,"y":0.6},{"s":"S 3d","x":-1.1,"y":0.5},{"s":"S 3d","x":-1,"y":0.5},{"s":"S 3d","x":-0.9,"y":0.8},{"s":"S 3d","x":-0.8,"y":1.3},{"s":"S 3d","x":-0.7,"y":1.3},{"s":"S 3d","x":-0.6,"y":0.9},{"s":"S 3d","x":-0.5,"y":0.4},{"s":"S 3d","x":-0.4,"y":0.2},{"s":"S 3d","x":-0.3,"y":0.2},{"s":"S 3d","x":-0.2,"y":0.2},{"s":"S 3d","x":-0.1,"y":0.2},{"s":"S 3d","x":0,"y":0.1},{"s":"S 3d","x":0.1,"y":0.1},{"s":"S 3d","x":0.2,"y":0.2},{"s":"S 3d","x":0.3,"y":0.3},{"s":"S 3d","x":0.4,"y":0.2},{"s":"S 3d","x":0.5,"y":0.2},{"s":"S 3d","x":0.6,"y":0.2},{"s":"S 3d","x":0.7,"y":0.3},{"s":"S 3d","x":0.8,"y":0.3},{"s":"S 3d","x":0.9,"y":0.4},{"s":"S 3d","x":1,"y":0.6},{"s":"S 3d","x":1.1,"y":0.8},{"s":"S 3d","x":1.2,"y":1.0},{"s":"S 3d","x":1.3,"y":1.2},{"s":"S 3d","x":1.4,"y":1.4},{"s":"S 3d","x":1.5,"y":1.6},{"s":"S 3d","x":1.6,"y":1.4},{"s":"S 3d","x":1.7,"y":1.5},{"s":"S 3d","x":1.8,"y":1.6},{"s":"S 3d","x":1.9,"y":1.5},{"s":"S 3d","x":2,"y":1.5},
{"s":"Mo","x":-2,"y":9.2},{"s":"Mo","x":-1.95,"y":9.6},{"s":"Mo","x":-1.9,"y":9.9},{"s":"Mo","x":-1.85,"y":10.2},{"s":"Mo","x":-1.8,"y":9.9},{"s":"Mo","x":-1.75,"y":8.9},{"s":"Mo","x":-1.7,"y":7.4},{"s":"Mo","x":-1.65,"y":6.0},{"s":"Mo","x":-1.6,"y":5.1},{"s":"Mo","x":-1.55,"y":5.0},{"s":"Mo","x":-1.5,"y":5.9},{"s":"Mo","x":-1.45,"y":7.2},{"s":"Mo","x":-1.4,"y":8.4},{"s":"Mo","x":-1.35,"y":9.3},{"s":"Mo","x":-1.3,"y":9.8},{"s":"Mo","x":-1.25,"y":10.3},{"s":"Mo","x":-1.2,"y":10.6},{"s":"Mo","x":-1.15,"y":10.2},{"s":"Mo","x":-1.1,"y":9.3},{"s":"Mo","x":-1.05,"y":8.4},{"s":"Mo","x":-1,"y":8.5},{"s":"Mo","x":-0.95,"y":10.8},{"s":"Mo","x":-0.9,"y":14.5},{"s":"Mo","x":-0.85,"y":18.5},{"s":"Mo","x":-0.8,"y":20.9},{"s":"Mo","x":-0.75,"y":21.5},{"s":"Mo","x":-0.7,"y":20.3},{"s":"Mo","x":-0.65,"y":17.1},{"s":"Mo","x":-0.6,"y":13.9},{"s":"Mo","x":-0.55,"y":10.5},{"s":"Mo","x":-0.5,"y":7.2},{"s":"Mo","x":-0.45,"y":4.7},{"s":"Mo","x":-0.4,"y":3.3},{"s":"Mo","x":-0.35,"y":2.7},{"s":"Mo","x":-0.3,"y":2.4},{"s":"Mo","x":-0.25,"y":2.2},{"s":"Mo","x":-0.2,"y":2.0},{"s":"Mo","x":-0.15,"y":1.9},{"s":"Mo","x":-0.1,"y":1.8},{"s":"Mo","x":-0.05,"y":1.6},{"s":"Mo","x":0,"y":0.8},{"s":"Mo","x":0.05,"y":0.4},{"s":"Mo","x":0.1,"y":0.6},{"s":"Mo","x":0.15,"y":1.5},{"s":"Mo","x":0.2,"y":2.9},{"s":"Mo","x":0.25,"y":4.3},{"s":"Mo","x":0.3,"y":5.3},{"s":"Mo","x":0.35,"y":5.5},{"s":"Mo","x":0.4,"y":4.7},{"s":"Mo","x":0.45,"y":3.7},{"s":"Mo","x":0.5,"y":3.1},{"s":"Mo","x":0.55,"y":2.9},{"s":"Mo","x":0.6,"y":3.0},{"s":"Mo","x":0.65,"y":3.3},{"s":"Mo","x":0.7,"y":3.8},{"s":"Mo","x":0.75,"y":4.1},{"s":"Mo","x":0.8,"y":3.9},{"s":"Mo","x":0.85,"y":3.5},{"s":"Mo","x":0.9,"y":3.6},{"s":"Mo","x":0.95,"y":5.0},{"s":"Mo","x":1,"y":7.0},{"s":"Mo","x":1.05,"y":7.8},{"s":"Mo","x":1.1,"y":8.1},{"s":"Mo","x":1.15,"y":8.5},{"s":"Mo","x":1.2,"y":9.2},{"s":"Mo","x":1.25,"y":9.9},{"s":"Mo","x":1.3,"y":10.7},{"s":"Mo","x":1.35,"y":12.3},{"s":"Mo","x":1.4,"y":15.3},{"s":"Mo","x":1.45,"y":17.6},{"s":"Mo","x":1.5,"y":18.9},{"s":"Mo","x":1.55,"y":19.0},{"s":"Mo","x":1.6,"y":18.3},{"s":"Mo","x":1.65,"y":19.6},{"s":"Mo","x":1.7,"y":22.7},{"s":"Mo","x":1.75,"y":25.3},{"s":"Mo","x":1.8,"y":26.3},{"s":"Mo","x":1.85,"y":26.2},{"s":"Mo","x":1.9,"y":25.8},{"s":"Mo","x":1.95,"y":25.9},{"s":"Mo","x":2,"y":27.6},
{"s":"Mo 4d","x":-2,"y":8.4},{"s":"Mo 4d","x":-1.95,"y":8.8},{"s":"Mo 4d","x":-1.9,"y":9.1},{"s":"Mo 4d","x":-1.85,"y":9.4},{"s":"Mo 4d","x":-1.8,"y":9.1},{"s":"Mo 4d","x":-1.75,"y":8.1},{"s":"Mo 4d","x":-1.7,"y":6.6},{"s":"Mo 4d","x":-1.65,"y":5.2},{"s":"Mo 4d","x":-1.6,"y":4.3},{"s":"Mo 4d","x":-1.55,"y":4.2},{"s":"Mo 4d","x":-1.5,"y":5.1},{"s":"Mo 4d","x":-1.45,"y":6.4},{"s":"Mo 4d","x":-1.4,"y":7.6},{"s":"Mo 4d","x":-1.35,"y":8.5},{"s":"Mo 4d","x":-1.3,"y":9.0},{"s":"Mo 4d","x":-1.25,"y":9.5},{"s":"Mo 4d","x":-1.2,"y":9.8},{"s":"Mo 4d","x":-1.15,"y":9.4},{"s":"Mo 4d","x":-1.1,"y":8.5},{"s":"Mo 4d","x":-1.05,"y":7.8},{"s":"Mo 4d","x":-1,"y":8.0},{"s":"Mo 4d","x":-0.95,"y":10.3},{"s":"Mo 4d","x":-0.9,"y":13.8},{"s":"Mo 4d","x":-0.85,"y":17.5},{"s":"Mo 4d","x":-0.8,"y":19.6},{"s":"Mo 4d","x":-0.75,"y":20.1},{"s":"Mo 4d","x":-0.7,"y":19.0},{"s":"Mo 4d","x":-0.65,"y":16.0},{"s":"Mo 4d","x":-0.6,"y":13.0},{"s":"Mo 4d","x":-0.55,"y":9.8},{"s":"Mo 4d","x":-0.5,"y":6.8},{"s":"Mo 4d","x":-0.45,"y":4.4},{"s":"Mo 4d","x":-0.4,"y":3.1},{"s":"Mo 4d","x":-0.35,"y":2.5},{"s":"Mo 4d","x":-0.3,"y":2.2},{"s":"Mo 4d","x":-0.25,"y":2.0},{"s":"Mo 4d","x":-0.2,"y":1.8},{"s":"Mo 4d","x":-0.15,"y":1.7},{"s":"Mo 4d","x":-0.1,"y":1.6},{"s":"Mo 4d","x":-0.05,"y":1.4},{"s":"Mo 4d","x":0,"y":0.7},{"s":"Mo 4d","x":0.05,"y":0.3},{"s":"Mo 4d","x":0.1,"y":0.5},{"s":"Mo 4d","x":0.15,"y":1.3},{"s":"Mo 4d","x":0.2,"y":2.7},{"s":"Mo 4d","x":0.25,"y":4.1},{"s":"Mo 4d","x":0.3,"y":5.1},{"s":"Mo 4d","x":0.35,"y":5.3},{"s":"Mo 4d","x":0.4,"y":4.5},{"s":"Mo 4d","x":0.45,"y":3.5},{"s":"Mo 4d","x":0.5,"y":2.9},{"s":"Mo 4d","x":0.55,"y":2.7},{"s":"Mo 4d","x":0.6,"y":2.8},{"s":"Mo 4d","x":0.65,"y":3.1},{"s":"Mo 4d","x":0.7,"y":3.6},{"s":"Mo 4d","x":0.75,"y":3.9},{"s":"Mo 4d","x":0.8,"y":3.7},{"s":"Mo 4d","x":0.85,"y":3.3},{"s":"Mo 4d","x":0.9,"y":3.4},{"s":"Mo 4d","x":0.95,"y":4.8},{"s":"Mo 4d","x":1,"y":6.8},{"s":"Mo 4d","x":1.05,"y":7.6},{"s":"Mo 4d","x":1.1,"y":7.9},{"s":"Mo 4d","x":1.15,"y":8.3},{"s":"Mo 4d","x":1.2,"y":9.0},{"s":"Mo 4d","x":1.25,"y":9.7},{"s":"Mo 4d","x":1.3,"y":10.5},{"s":"Mo 4d","x":1.35,"y":12.1},{"s":"Mo 4d","x":1.4,"y":15.1},{"s":"Mo 4d","x":1.45,"y":17.4},{"s":"Mo 4d","x":1.5,"y":18.7},{"s":"Mo 4d","x":1.55,"y":18.8},{"s":"Mo 4d","x":1.6,"y":18.1},{"s":"Mo 4d","x":1.65,"y":19.4},{"s":"Mo 4d","x":1.7,"y":22.5},{"s":"Mo 4d","x":1.75,"y":25.1},{"s":"Mo 4d","x":1.8,"y":26.1},{"s":"Mo 4d","x":1.85,"y":26.0},{"s":"Mo 4d","x":1.9,"y":25.6},{"s":"Mo 4d","x":1.95,"y":25.7},{"s":"Mo 4d","x":2,"y":27.4}
]
},
"vconcat": [
{
  "width": 813, "height": 302,
  "data": {"name": "up"},
  "resolve": {"axis": {"x": "independent", "y": "independent"}},
  "layer": [
    {
      "transform": [{"filter": "datum.s == 'Tot'"}],
      "mark": {"type": "line", "interpolate": "monotone", "strokeWidth": 4.5},
      "encoding": {
        "x": {"field": "x", "type": "quantitative", "scale": {"domain": [-2, 2], "nice": false, "zero": false},
              "axis": {"orient": "top", "values": [-2,-1.75,-1.5,-1.25,-1,-0.75,-0.5,-0.25,0,0.25,0.5,0.75,1,1.25,1.5,1.75,2], "tickSize": -12, "labelPadding": 18, "labelExpr": "datum.value * 2 == round(datum.value * 2) ? '' + datum.value : ''", "title": null, "labelFlush": false, "labelOverlap": false}},
        "y": {"field": "y", "type": "quantitative", "scale": {"domain": [0, 50], "nice": false},
              "axis": {"orient": "left", "values": [0,5,10,15,20,25,30,35,40,45,50], "tickSize": -14, "labelPadding": 22, "labelExpr": "datum.value % 10 == 0 && datum.value > 0 ? '' + datum.value : ''", "title": "Up Spin DOS", "titlePadding": 8, "labelFlush": false, "labelOverlap": false}},
        "color": {"field": "s", "type": "nominal", "scale": {"domain": ["Tot","S","S 3p","S 3d","Mo","Mo 4d"], "range": ["#000000","#2244ee","#2244ee","#2244ee","#f01818","#f01818"]}, "legend": {"orient": "none", "legendX": 416, "legendY": 10, "title": null}},
        "strokeDash": {"field": "s", "type": "nominal", "scale": {"domain": ["Tot","S","S 3p","S 3d","Mo","Mo 4d"], "range": [[1,0],[1,0],[3,6,14,6],[15,8],[1,0],[13,7]]}, "legend": {"orient": "none", "legendX": 416, "legendY": 10, "title": null}}
      }
    },
    {
      "transform": [{"filter": "datum.s != 'Tot'"}],
      "mark": {"type": "line", "interpolate": "monotone", "strokeWidth": 3},
      "encoding": {
        "x": {"field": "x", "type": "quantitative", "axis": null},
        "y": {"field": "y", "type": "quantitative", "axis": null},
        "color": {"field": "s", "type": "nominal", "scale": {"domain": ["Tot","S","S 3p","S 3d","Mo","Mo 4d"], "range": ["#000000","#2244ee","#2244ee","#2244ee","#f01818","#f01818"]}, "legend": {"orient": "none", "legendX": 416, "legendY": 10, "title": null}},
        "strokeDash": {"field": "s", "type": "nominal", "scale": {"domain": ["Tot","S","S 3p","S 3d","Mo","Mo 4d"], "range": [[1,0],[1,0],[3,6,14,6],[15,8],[1,0],[13,7]]}, "legend": {"orient": "none", "legendX": 416, "legendY": 10, "title": null}}
      }
    },
    {
      "transform": [{"filter": "datum.s == 'Tot' && datum.x == 0"}],
      "mark": {"type": "rule", "color": "black", "strokeWidth": 1.5},
      "encoding": {
        "x": {"datum": 0, "type": "quantitative", "axis": null}
      }
    },
    {
      "transform": [{"filter": "datum.s == 'Tot' && datum.x == 0"}],
      "mark": {"type": "rect", "fill": "white", "fillOpacity": 0, "stroke": "black", "strokeWidth": 3},
      "encoding": {
        "x": {"datum": -2, "type": "quantitative", "axis": null},
        "x2": {"datum": 2},
        "y": {"datum": 0, "type": "quantitative", "axis": null},
        "y2": {"datum": 50}
      }
    },
    {
      "transform": [{"filter": "datum.s == 'Tot' && datum.x == 0"}],
      "mark": {"type": "point", "opacity": 0},
      "encoding": {
        "x": {"field": "x", "type": "quantitative", "axis": {"orient": "bottom", "values": [-1.75,-1.5,-1.25,-1,-0.75,-0.5,-0.25,0,0.25,0.5,0.75,1,1.25,1.5,1.75], "tickSize": -12, "labels": false, "title": null}},
        "y": {"field": "y", "type": "quantitative", "axis": {"orient": "right", "values": [5,10,15,20,25,30,35,40,45], "tickSize": -14, "labels": false, "title": null}}
      }
    }
  ]
},
{
  "width": 813, "height": 303,
  "data": {"name": "down"},
  "resolve": {"axis": {"x": "independent", "y": "independent"}},
  "layer": [
    {
      "transform": [{"filter": "datum.s == 'Tot'"}],
      "mark": {"type": "line", "interpolate": "monotone", "strokeWidth": 4.5},
      "encoding": {
        "x": {"field": "x", "type": "quantitative", "scale": {"domain": [-2, 2], "nice": false, "zero": false},
              "axis": {"orient": "bottom", "values": [-2,-1.75,-1.5,-1.25,-1,-0.75,-0.5,-0.25,0,0.25,0.5,0.75,1,1.25,1.5,1.75,2], "tickSize": -12, "labelPadding": 20, "labelExpr": "datum.value * 2 == round(datum.value * 2) ? '' + datum.value : ''", "title": null, "labelFlush": false, "labelOverlap": false}},
        "y": {"field": "y", "type": "quantitative", "scale": {"domain": [0, 50], "nice": false},
              "axis": {"orient": "left", "values": [0,5,10,15,20,25,30,35,40,45,50], "tickSize": -14, "labelPadding": 22, "labelExpr": "datum.value % 10 == 0 ? '' + datum.value : ''", "title": "Down Spin DOS", "titlePadding": 8, "labelFlush": false, "labelOverlap": false}},
        "color": {"field": "s", "type": "nominal", "scale": {"domain": ["Tot","S","S 3p","S 3d","Mo","Mo 4d"], "range": ["#000000","#2244ee","#2244ee","#2244ee","#f01818","#f01818"]}, "legend": {"orient": "none", "legendX": 416, "legendY": 5, "title": null}},
        "strokeDash": {"field": "s", "type": "nominal", "scale": {"domain": ["Tot","S","S 3p","S 3d","Mo","Mo 4d"], "range": [[1,0],[1,0],[3,6,14,6],[15,8],[1,0],[13,7]]}, "legend": {"orient": "none", "legendX": 416, "legendY": 5, "title": null}}
      }
    },
    {
      "transform": [{"filter": "datum.s != 'Tot'"}],
      "mark": {"type": "line", "interpolate": "monotone", "strokeWidth": 3},
      "encoding": {
        "x": {"field": "x", "type": "quantitative", "axis": null},
        "y": {"field": "y", "type": "quantitative", "axis": null},
        "color": {"field": "s", "type": "nominal", "scale": {"domain": ["Tot","S","S 3p","S 3d","Mo","Mo 4d"], "range": ["#000000","#2244ee","#2244ee","#2244ee","#f01818","#f01818"]}, "legend": {"orient": "none", "legendX": 416, "legendY": 5, "title": null}},
        "strokeDash": {"field": "s", "type": "nominal", "scale": {"domain": ["Tot","S","S 3p","S 3d","Mo","Mo 4d"], "range": [[1,0],[1,0],[3,6,14,6],[15,8],[1,0],[13,7]]}, "legend": {"orient": "none", "legendX": 416, "legendY": 5, "title": null}}
      }
    },
    {
      "transform": [{"filter": "datum.s == 'Tot' && datum.x == 0"}],
      "mark": {"type": "rule", "color": "black", "strokeWidth": 1.5},
      "encoding": {
        "x": {"datum": 0, "type": "quantitative", "axis": null}
      }
    },
    {
      "transform": [{"filter": "datum.s == 'Tot' && datum.x == 0"}],
      "mark": {"type": "rect", "fill": "white", "fillOpacity": 0, "stroke": "black", "strokeWidth": 3},
      "encoding": {
        "x": {"datum": -2, "type": "quantitative", "axis": null},
        "x2": {"datum": 2},
        "y": {"datum": 0, "type": "quantitative", "axis": null},
        "y2": {"datum": 50}
      }
    },
    {
      "transform": [{"filter": "datum.s == 'Tot' && datum.x == 0"}],
      "mark": {"type": "point", "opacity": 0},
      "encoding": {
        "x": {"field": "x", "type": "quantitative", "axis": {"orient": "top", "values": [-1.75,-1.5,-1.25,-1,-0.75,-0.5,-0.25,0,0.25,0.5,0.75,1,1.25,1.5,1.75], "tickSize": -12, "labels": false, "title": null}},
        "y": {"field": "y", "type": "quantitative", "axis": {"orient": "right", "values": [5,10,15,20,25,30,35,40,45], "tickSize": -14, "labels": false, "title": null}}
      }
    }
  ]
}
]
}
